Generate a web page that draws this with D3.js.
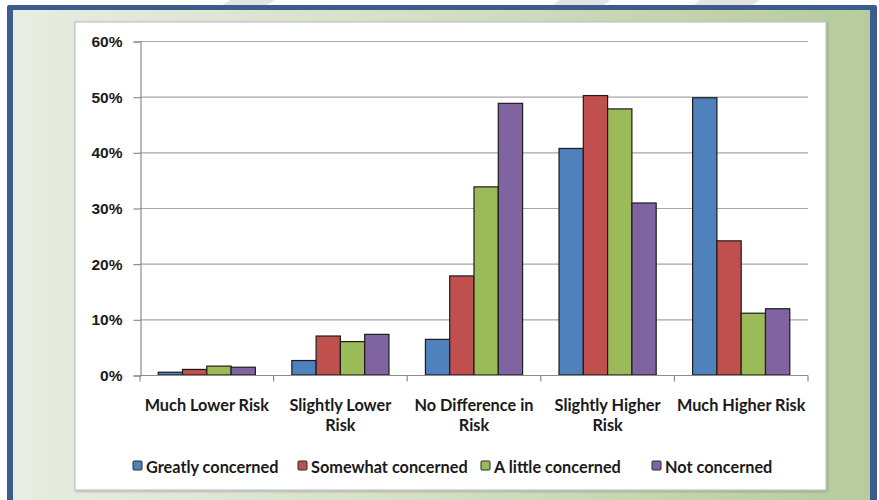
<!DOCTYPE html>
<html lang="en">
<head>
<meta charset="utf-8">
<title>Risk perception by concern</title>
<style>
  body { margin: 0; background: #fff; }
  svg { display: block; font-family: Lato, "Open Sans", sans-serif; }
  .tick text { font-weight: bold; fill: #1a1a1a; }
</style>
</head>
<body>
<svg id="chart"></svg>
<script src="https://d3js.org/d3.v7.min.js"></script>
<script>
// categories along the x axis (each label split in lines)
const categories = ["Much Lower Risk", "Slightly Lower Risk", "No Difference in Risk", "Slightly Higher Risk", "Much Higher Risk"];
const categoryLines = [["Much Lower Risk"], ["Slightly Lower", "Risk"], ["No Difference in", "Risk"], ["Slightly Higher", "Risk"], ["Much Higher Risk"]];

const seriesNames = ["Greatly concerned", "Somewhat concerned", "A little concerned", "Not concerned"];
const seriesColors = ["#4f81bd", "#c0504d", "#9bbb59", "#8064a2"];

// percent values, one array per series, in category order
const greatly  = [0.5, 2.6, 6.4, 40.7, 49.8];
const somewhat = [1.0, 7.0, 17.8, 50.2, 24.1];
const little   = [1.6, 6.0, 33.8, 47.8, 11.1];
const notConc  = [1.4, 7.3, 48.8, 30.9, 11.9];
const seriesValues = [greatly, somewhat, little, notConc];

const yTicks = [0, 10, 20, 30, 40, 50, 60];

const W = 879, H = 500;
const svg = d3.select("#chart").attr("width", W).attr("height", H);
const defs = svg.append("defs");

// frame background gradient
const grad = defs.append("linearGradient").attr("id", "bg").attr("x1", 0).attr("x2", 1).attr("y1", 0).attr("y2", 0);
grad.append("stop").attr("offset", "0%").attr("stop-color", "#e8ece2");
grad.append("stop").attr("offset", "45%").attr("stop-color", "#d6e0c8");
grad.append("stop").attr("offset", "100%").attr("stop-color", "#b7cb9c");

const shadow = defs.append("filter").attr("id", "shadow").attr("x", "-5%").attr("y", "-5%").attr("width", "110%").attr("height", "110%");
shadow.append("feDropShadow").attr("dx", 1).attr("dy", 1).attr("stdDeviation", 1.2).attr("flood-color", "#000").attr("flood-opacity", 0.25);

// faint watermark shapes above the frame
const wm = [[[230, 0], [275, 0], [262, 8], [218, 8]], [[560, 0], [610, 0], [600, 8], [548, 8]], [[700, 0], [760, 0], [748, 8], [690, 8]]];
svg.selectAll("polygon.wm").data(wm).enter().append("polygon")
  .attr("class", "wm")
  .attr("points", d => d.map(p => p.join(",")).join(" "))
  .attr("fill", "#e4e4e4");

// blue frame and gradient panel
svg.append("rect").attr("x", 7).attr("y", 5).attr("width", 870).attr("height", 500).attr("rx", 2).attr("fill", "#3a5d8c");
svg.append("rect").attr("x", 13).attr("y", 10).attr("width", 857).attr("height", 495).attr("fill", "url(#bg)");

// white chart box
svg.append("rect").attr("x", 75).attr("y", 22).attr("width", 751).attr("height", 468)
  .attr("fill", "#fff").attr("stroke", "#c4c4c4").attr("stroke-width", 1.2)
  .attr("filter", "url(#shadow)");

const margin = { left: 140, right: 71, top: 41, bottom: 125 };
const x0 = d3.scaleBand().domain(categories).range([margin.left, W - margin.right]).padding(0);
const x1 = d3.scaleBand().domain(seriesNames).range([0, x0.bandwidth()]).paddingInner(0).paddingOuter(0.75);
const y = d3.scaleLinear().domain([0, 60]).range([H - margin.bottom, margin.top]);

// gridlines
svg.append("g").selectAll("line").data(yTicks.filter(t => t > 0)).enter().append("line")
  .attr("x1", margin.left).attr("x2", W - margin.right)
  .attr("y1", d => y(d) + 0.5).attr("y2", d => y(d) + 0.5)
  .attr("stroke", "#a6a6a6").attr("stroke-width", 1.2);

// y axis
const yAxis = d3.axisLeft(y).tickValues(yTicks).tickFormat(d => d + "%").tickSize(7).tickPadding(11);
const gy = svg.append("g").attr("transform", "translate(" + (margin.left + 0.5) + ",0.5)").call(yAxis);
gy.select(".domain").attr("stroke", "#8c8c8c").attr("stroke-width", 1.2);
gy.selectAll(".tick line").attr("stroke", "#8c8c8c").attr("stroke-width", 1.2);
gy.selectAll(".tick text").attr("font-size", 15.5);

// bars
const groups = svg.append("g").selectAll("g").data(categories).enter().append("g")
  .attr("transform", d => "translate(" + x0(d) + ",0)");
groups.selectAll("rect").data((c, ci) => seriesNames.map((s, si) => ({ s: s, si: si, v: seriesValues[si][ci] })))
  .enter().append("rect")
  .attr("x", d => x1(d.s))
  .attr("y", d => y(d.v))
  .attr("width", x1.bandwidth())
  .attr("height", d => y(0) - y(d.v))
  .attr("fill", d => seriesColors[d.si])
  .attr("stroke", "#1c1c1c").attr("stroke-width", 1.2);

// x axis with category boundary ticks
const gx = svg.append("g").attr("transform", "translate(0," + (y(0) + 0.5) + ")");
gx.append("line").attr("x1", margin.left).attr("x2", W - margin.right).attr("stroke", "#8c8c8c").attr("stroke-width", 1.2);
const bounds = categories.map(c => x0(c)).concat([W - margin.right]);
gx.selectAll("line.b").data(bounds).enter().append("line").attr("class", "b")
  .attr("x1", d => d).attr("x2", d => d).attr("y1", 0).attr("y2", 6)
  .attr("stroke", "#8c8c8c").attr("stroke-width", 1.2);

// category labels
const lab = svg.append("g").selectAll("text").data(categories).enter().append("text")
  .attr("x", d => x0(d) + x0.bandwidth() / 2)
  .attr("y", y(0) + 36)
  .attr("text-anchor", "middle")
  .attr("font-size", 16.3).attr("font-weight", "bold").attr("fill", "#1a1a1a");
lab.each(function(d, i) {
  d3.select(this).selectAll("tspan").data(categoryLines[i]).enter().append("tspan")
    .attr("x", x0(d) + x0.bandwidth() / 2)
    .attr("dy", (t, j) => j === 0 ? 0 : 20)
    .text(t => t);
});

// legend
const legendX = [133, 298, 481, 652];
const legend = svg.append("g").selectAll("g").data(seriesNames).enter().append("g")
  .attr("transform", (d, i) => "translate(" + legendX[i] + ",462)");
legend.append("rect").attr("width", 9).attr("height", 9).attr("y", -1).attr("rx", 1)
  .attr("fill", (d, i) => seriesColors[i]).attr("stroke", "#2a2a2a").attr("stroke-width", 1);
legend.append("text").attr("x", 13).attr("y", 10.5)
  .attr("font-size", 16.3).attr("font-weight", "bold").attr("fill", "#1a1a1a")
  .text(d => d);
</script>
</body>
</html>
